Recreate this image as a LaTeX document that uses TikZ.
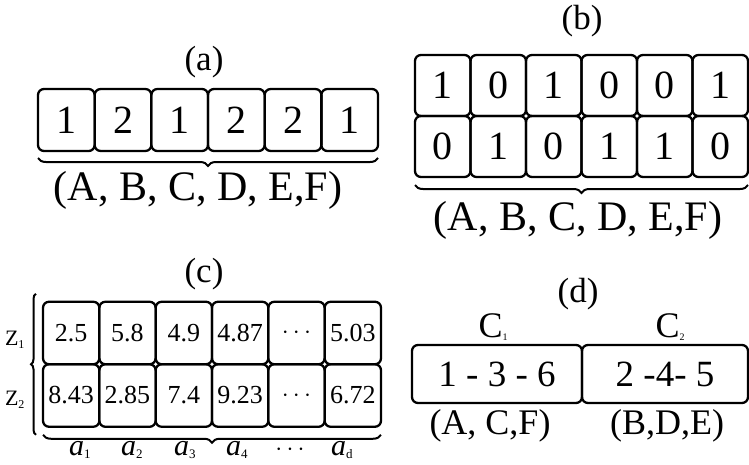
\documentclass[tikz,border=0pt]{standalone}
\usepackage{fontspec}
\setmainfont{Liberation Serif}
\usetikzlibrary{decorations.pathreplacing}

\newcommand{\fsz}[1]{\fontsize{#1}{#1}\selectfont}

\begin{document}
\begin{tikzpicture}[x=1pt,y=-1pt,
  cell/.style={draw, line width=2.3pt, rounded corners=6pt, inner sep=0pt, outer sep=0pt},
  cellA/.style={cell, minimum width=56.67pt, minimum height=62pt, font=\fsz{40}},
  cellB/.style={cell, minimum width=55.5pt, minimum height=61pt, font=\fsz{40}},
  cellC/.style={cell, minimum width=56.33pt, minimum height=62.5pt, font=\fsz{26}},
  cellD/.style={cell, minimum height=58pt, font=\fsz{37}},
  title/.style={font=\fsz{35}, inner sep=0pt},
  lbl/.style={font=\fsz{42}, inner sep=0pt},
  brc/.style={decorate, line width=2pt, decoration={brace, amplitude=#1}},
  brc/.default=8pt
]
\useasboundingbox (0,0) rectangle (749,464);

% ---------- (a): one row of cluster labels ----------
\node[title] (ta) at (204,62) {(a)};
\foreach \v [count=\i] in {1,2,1,2,2,1}
  \node[cellA] (a\i) at ({38+56.67*(\i-0.5)},120) {\v};
\draw[brc, decoration={mirror}] ([yshift=-7pt]a1.south west) -- ([yshift=-7pt]a6.south east);
\node[lbl] (la) at (198,190) {(A, B, C, D, E,F)};

% ---------- (b): binary membership matrix ----------
\node[title] (tb) at (582,21) {(b)};
\foreach \v [count=\i] in {1,0,1,0,0,1}
  \node[cellB] (b1\i) at ({415+55.5*(\i-0.5)},85.5) {\v};
\foreach \v [count=\i] in {0,1,0,1,1,0}
  \node[cellB] (b2\i) at ({415+55.5*(\i-0.5)},146.5) {\v};
\draw[brc, decoration={mirror}] ([yshift=-8pt]b21.south west) -- ([yshift=-8pt]b26.south east);
\node[lbl] (lb) at (578,220) {(A, B, C, D, E,F)};

% ---------- (c): real-valued centroid matrix ----------
\node[title] (tc) at (204,274) {(c)};
\foreach \v [count=\i] in {2.5,5.8,4.9,4.87,$\cdots$,5.03}
  \node[cellC] (c1\i) at ({43+56.33*(\i-0.5)},333) {\v};
\foreach \v [count=\i] in {8.43,2.85,7.4,9.23,$\cdots$,6.72}
  \node[cellC] (c2\i) at ({43+56.33*(\i-0.5)},395.5) {\v};
\draw[brc=5pt] ([xshift=-7pt,yshift=-8pt]c21.south west) -- ([xshift=-7pt,yshift=8pt]c11.north west);
\draw[brc, decoration={mirror}] ([yshift=-8pt]c21.south west) -- ([yshift=-8pt]c26.south east);
\node[font=\fsz{22}, inner sep=0pt] (z1) at (15,340) {Z\textsubscript{\fsz{12}1}};
\node[font=\fsz{22}, inner sep=0pt] (z2) at (15,400) {Z\textsubscript{\fsz{12}2}};
\foreach \s/\x in {1/80,2/132,3/185,4/237,d/342}
  \node[font=\fsz{30}, inner sep=0pt, anchor=base] (al\s) at (\x,455) {\textit{a}\textsubscript{\fsz{13}\s}};
\node[font=\fsz{24}, inner sep=0pt, anchor=base] (aldots) at (290,455) {$\cdots$};

% ---------- (d): label-based cluster encoding ----------
\node[title] (td) at (578,294) {(d)};
\node[cellD, minimum width=170pt] (d1) at (497,374) {1 - 3 - 6};
\node[cellD, minimum width=166pt] (d2) at (665,374) {2 -4- 5};
\node[font=\fsz{36}, inner sep=0pt] (c1) at (493,327) {C\raisebox{-0.2ex}{\fsz{10}1}};
\node[font=\fsz{36}, inner sep=0pt] (c2) at (670,327) {C\raisebox{-0.2ex}{\fsz{10}2}};
\node[font=\fsz{36}, inner sep=0pt] (ld1) at (490,426) {(A, C,F)};
\node[font=\fsz{36}, inner sep=0pt] (ld2) at (667,426) {(B,D,E)};
\end{tikzpicture}
\end{document}
